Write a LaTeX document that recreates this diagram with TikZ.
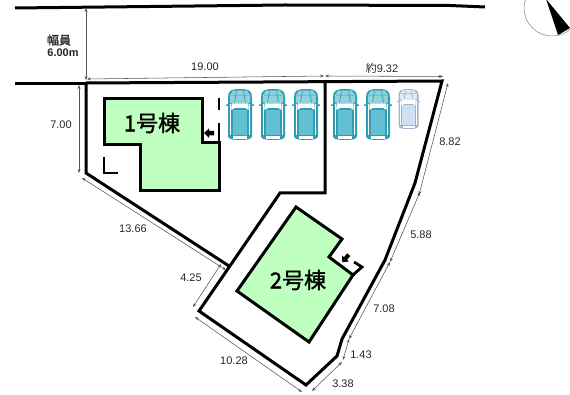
\documentclass[tikz,border=0pt]{standalone}
\usepackage{fontspec}
\setmainfont{Liberation Sans}
\newfontfamily\cjk{Noto Sans CJK JP}
\newfontfamily\cjkb{Noto Sans CJK JP}[FakeBold=1.5]
\usetikzlibrary{arrows.meta}
\definecolor{housegreen}{HTML}{BFFFBF}
\definecolor{dimgray}{HTML}{555555}
\definecolor{carteal}{HTML}{63BFD2}
\definecolor{carteald}{HTML}{2F9EB2}
\definecolor{carblue}{HTML}{CFE2F5}
\definecolor{carblued}{HTML}{A4B4C8}
\tikzset{
  bound/.style={line width=3pt,line join=miter,black},
  dimline/.style={line width=.55pt,dimgray,{Stealth[length=4pt,width=3pt]}-{Stealth[length=4pt,width=3pt]}},
  lab/.style={font=\fontsize{11}{12}\selectfont,text=black!85,inner sep=0pt},
  big/.style={font=\fontsize{22}{24}\cjkb,inner sep=0pt},
  house/.style={bound,fill=housegreen}
}
% \carshape{cx}{top y}{half width}{length}{fill}{edge}
\newcommand{\carshape}[6]{%
\begin{scope}[shift={(#1,#2)},x=#3pt,y=-#4pt]
 \fill[#6] (-1,.16) .. controls (-1,.03) and (-.7,0) .. (0,0) .. controls (.7,0) and (1,.03) .. (1,.16) -- (1,.92) .. controls (1,.98) and (.7,1) .. (0,1) .. controls (-.7,1) and (-1,.98) .. (-1,.92) -- cycle;
 \fill[#5!70!white] (-.55,.03) -- (.55,.03) -- (.85,.12) -- (.82,.27) -- (-.82,.27) -- (-.85,.12) -- cycle;
 \draw[#6,line width=.7pt] (-.3,.04) -- (-.45,.26) (.3,.04) -- (.45,.26) (-.78,.12) -- (.78,.12);
 \fill[white] (-.7,.28) -- (.7,.28) -- (.72,.41) -- (.4,.37) -- (-.4,.37) -- (-.72,.41) -- cycle;
 \fill[#5] (-.62,.41) -- (.62,.41) -- (.62,.9) -- (-.62,.9) -- cycle;
 \draw[white,line width=.7pt] (-.8,.3) -- (-.8,.9) (.8,.3) -- (.8,.9);
 \fill[white] (-.6,.92) rectangle (.6,.975);
 \fill[#6] (-1.16,.3) rectangle (-1,.33) (1,.3) rectangle (1.16,.33);
 \fill[red!60!black] (-.8,.9) circle[x=1.5pt,y=1.5pt] (.8,.9) circle[x=1.5pt,y=1.5pt];
\end{scope}}
\begin{document}
\begin{tikzpicture}[x=1pt,y=-1pt]
\useasboundingbox (0,0) rectangle (570,395);
\clip (0,0) rectangle (570,395);
% road
\draw[bound] (15,8) -- (285,5) -- (450,5.5) -- (485,7);
\draw[bound] (15,84) -- (87,84);
% houses
\draw[house] (104,99) -- (202,99) -- (202,143) -- (219,143) -- (219,191) -- (140,191) -- (140,145) -- (104,145) -- cycle;
\draw[house] (296,207) -- (342,239) -- (329,257) -- (353,275) -- (309,342) -- (237,291) -- cycle;
% lot
\draw[bound] (86,84) -- (86,173) -- (229,266);
\draw[bound] (86,83) -- (442,81) -- (415,183) -- (385,260) -- (342,339) -- (337,356) -- (306,385) -- (199,311) -- (280,193) -- (325,193) -- (325,81);
% door marks
\draw[line width=2.8pt] (219,98) -- (219,110) (219,123) -- (219,143);
\draw[line width=2.8pt] (104,157) -- (104,173) -- (118,173);
\draw[line width=2.8pt] (353,275) -- (362,267) -- (354,262);
\fill (204,133) -- (209,128.5) -- (209,131) -- (214,131) -- (214,135.5) -- (209,135.5) -- (209,138) -- cycle;
\begin{scope}[shift={(345.5,258.5)},rotate=50]
\fill (-5,0) -- (0,-4.5) -- (0,-2) -- (5,-2) -- (5,2) -- (0,2) -- (0,4.5) -- cycle;
\end{scope}
% cars
\carshape{240}{89}{12}{51}{carteal}{carteald}
\carshape{273}{89}{12}{51}{carteal}{carteald}
\carshape{306}{89}{12}{51}{carteal}{carteald}
\carshape{345}{89}{12}{51}{carteal}{carteald}
\carshape{378}{89}{12}{51}{carteal}{carteald}
\carshape{408.5}{89}{10}{40}{carblue}{carblued}
% dimensions
\draw[dimline] (86,8) -- (86,80);
\draw[dimline] (87,79) -- (324,76);
\draw[dimline] (325,76) -- (443,76.5);
\draw[dimline] (79,85) -- (79,173);
\draw[dimline] (82,178) -- (226,270);
\draw[dimline] (221,264) -- (193,307);
\draw[dimline] (195,317) -- (302,392);
\draw[dimline] (312,391) -- (342,362);
\draw[dimline] (349,339) -- (343,360);
\draw[dimline] (390,262) -- (349,339);
\draw[dimline] (420,192) -- (390,262);
\draw[dimline] (419,195) -- (448,83);
% labels
\node[lab,font=\fontsize{12}{12}\cjkb] (w1) at (59,40) {幅員};
\node[lab,font=\fontsize{11}{12}\selectfont\bfseries] (w2) at (63,53) {6.00m};
\node[lab] (l1) at (205,67) {19.00};
\node[lab] (l2) at (382,68) {{\cjk 約}9.32};
\node[lab] (l3) at (61,125) {7.00};
\node[lab] (l4) at (450,142) {8.82};
\node[lab] (l5) at (133,229) {13.66};
\node[lab] (l6) at (421,235) {5.88};
\node[lab] (l7) at (191,278) {4.25};
\node[lab] (l8) at (384,309) {7.08};
\node[lab] (l9) at (361,355) {1.43};
\node[lab] (l10) at (234,361) {10.28};
\node[lab] (l11) at (343,384) {3.38};
\node[big] (h1) at (152,123) {1号棟};
\node[big] (h2) at (298,280) {2号棟};
% compass
\draw[line width=.5pt,gray] (552,8) circle[radius=28];
\fill (546,-1) -- (570,28) -- (558,35) -- cycle;
\end{tikzpicture}
\end{document}
